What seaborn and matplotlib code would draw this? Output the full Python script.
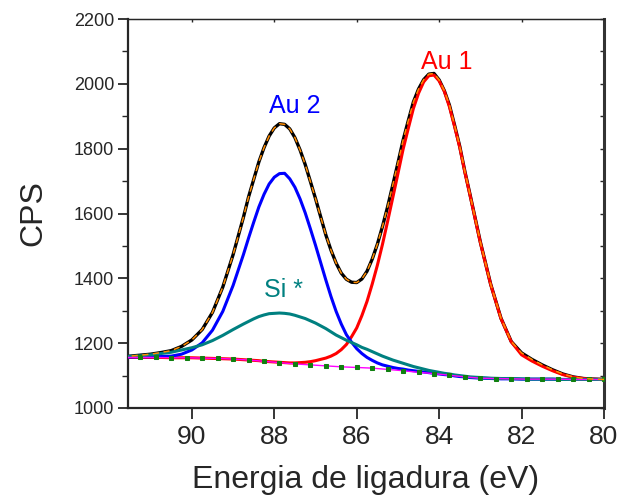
import pandas as pd
import seaborn as sns
from matplotlib import pyplot as plt

# values (binding energy in eV, counts per second)
energy = [91.75, 91.5, 91.25, 91.0, 90.75, 90.5, 90.25, 90.0, 89.75, 89.5,
          89.25, 89.0, 88.75,
          88.625, 88.5, 88.375, 88.25, 88.125, 88.0, 87.875, 87.75, 87.625,
          87.5, 87.375, 87.25, 87.125, 87.0,
          86.75, 86.625, 86.5, 86.375, 86.25, 86.125, 86.0, 85.875, 85.75,
          85.625, 85.5, 85.375, 85.25, 85.125, 85.0,
          84.875, 84.75, 84.625, 84.5, 84.375, 84.25, 84.125, 84.0, 83.875,
          83.75, 83.625, 83.5, 83.375, 83.25,
          83.0, 82.75, 82.5, 82.25, 82.0, 81.75, 81.5, 81.25, 81.0, 80.75,
          80.5, 80.25, 80.0]

envelope = [1159, 1160, 1163, 1166, 1171, 1177, 1190, 1210, 1242, 1295,
            1373, 1473, 1588,
            1651, 1705, 1759, 1803, 1839, 1864, 1877, 1875, 1861, 1834,
            1796, 1751, 1699, 1646,
            1534, 1487, 1447, 1416, 1397, 1388, 1387, 1398, 1422, 1459,
            1505, 1560, 1621, 1688, 1756,
            1826, 1886, 1944, 1984, 2013, 2030, 2032, 2012, 1979, 1934,
            1872, 1807, 1729, 1658,
            1512, 1382, 1277, 1205, 1170, 1150, 1133, 1118, 1105, 1096,
            1091, 1089, 1088]

au1 = [1156, 1156, 1156, 1156, 1156, 1155, 1155, 1155, 1154, 1153,
       1152, 1151, 1149,
       1148, 1147, 1146, 1144, 1143, 1142, 1141, 1140, 1139, 1139,
       1140, 1141, 1143, 1146,
       1154, 1160, 1168, 1180, 1196, 1220, 1247, 1285, 1329, 1382,
       1440, 1505, 1576, 1649, 1723,
       1798, 1862, 1924, 1971, 2006, 2025, 2027, 2009, 1977, 1929,
       1868, 1804, 1727, 1656,
       1510, 1381, 1276, 1204, 1164, 1145, 1129, 1115, 1103, 1095,
       1091, 1089, 1088]

au2 = [1157, 1157, 1158, 1158, 1159, 1160, 1166, 1179, 1201, 1240,
       1298, 1378, 1473,
       1524, 1573, 1620, 1659, 1691, 1712, 1723, 1724, 1707, 1681,
       1645, 1602, 1553, 1502,
       1395, 1344, 1298, 1259, 1226, 1203, 1183, 1168, 1156, 1147,
       1139, 1133, 1129, 1125, 1122,
       1120, 1117, 1115, 1113, 1111, 1109, 1107, 1105, 1103, 1102,
       1099, 1097, 1096, 1094,
       1092, 1091, 1090, 1090, 1089, 1089, 1089, 1089, 1088, 1088,
       1088, 1088, 1088]

si = [1158, 1159, 1161, 1164, 1168, 1172, 1179, 1186, 1195, 1208,
      1224, 1242, 1259,
      1267, 1275, 1282, 1287, 1291, 1292, 1293, 1292, 1290, 1286,
      1281, 1276, 1269, 1262,
      1245, 1235, 1225, 1217, 1209, 1202, 1195, 1187, 1181, 1174,
      1167, 1160, 1154, 1148, 1143,
      1138, 1133, 1128, 1124, 1120, 1116, 1113, 1110, 1107, 1105,
      1102, 1100, 1098, 1096,
      1094, 1092, 1091, 1091, 1090, 1089, 1089, 1089, 1088, 1088,
      1088, 1088, 1088]

bg_energy = [91.625, 91.25, 90.875, 90.5, 90.125, 89.75, 89.375, 89.0,
             88.625, 88.25, 87.875, 87.5, 87.125, 86.75, 86.375, 86.0,
             85.625, 85.25, 84.875, 84.5, 84.125, 83.75, 83.375, 83.0,
             82.625, 82.25, 81.875, 81.5, 81.125, 80.75, 80.375, 80.0]
background = [1156, 1156, 1156, 1155, 1155, 1154, 1153, 1151, 1148, 1144,
              1140, 1136, 1133, 1130, 1127, 1125, 1123, 1119, 1115, 1110,
              1106, 1101, 1096, 1092, 1091, 1090, 1089, 1089, 1089, 1088,
              1088, 1088]

labels = ['Au 1', 'Au 2', 'Si *']
label_x = [83.82, 87.5, 87.78]
label_y = [2045, 1909, 1342]
label_colors = ['#ff0000', '#0000ff', '#008080']

fit = pd.DataFrame({'energy': energy, 'envelope': envelope,
                    'au1': au1, 'au2': au2, 'si': si})
bg = pd.DataFrame({'energy': bg_energy, 'background': background})

sns.set_style('ticks')
plt.rcParams['font.family'] = ['Liberation Sans', 'DejaVu Sans']

fig = plt.figure(figsize=(6.21, 4.96), dpi=100)
ax = fig.add_axes([128 / 621, 1 - 408 / 496, 476 / 621, 389 / 496])

sns.lineplot(data=fit, x='energy', y='envelope', color='black', lw=2.4,
             ax=ax, zorder=2)
sns.lineplot(data=fit, x='energy', y='au1', color='#ff0000', lw=2.2,
             ax=ax, zorder=3)
sns.lineplot(data=fit, x='energy', y='au2', color='#0000ff', lw=2.2,
             ax=ax, zorder=3)
sns.lineplot(data=fit, x='energy', y='si', color='#008080', lw=2.2,
             ax=ax, zorder=3)
sns.lineplot(data=bg, x='energy', y='background', color='#ff00ff', lw=1.0,
             marker='s', markersize=2.5, markerfacecolor='#108010',
             markeredgecolor='#108010', ax=ax, zorder=4)
sns.lineplot(data=fit, x='energy', y='envelope', color='#ff8c00', lw=1.1,
             linestyle=(0, (4, 3)), ax=ax, zorder=5)

for txt, tx, ty, col in zip(labels, label_x, label_y, label_colors):
    ax.text(tx, ty, txt, color=col, fontsize=18, ha='center', va='baseline')

ax.set_xlim(91.55, 80)
ax.set_ylim(1000, 2200)
ax.set_xticks([90, 88, 86, 84, 82, 80])
ax.set_yticks(range(1000, 2201, 200))
ax.set_yticks(range(1100, 2200, 200), minor=True)

ax.tick_params(axis='x', direction='out', length=8, width=1.3,
               labelsize=19, pad=4)
ax.tick_params(axis='y', which='major', direction='out', length=7,
               width=1.3, labelsize=13, pad=3)
ax.tick_params(axis='y', which='minor', direction='out', length=4,
               width=1.0)

ax.set_xlabel('Energia de ligadura (eV)', fontsize=23, labelpad=12)
ax.set_ylabel('CPS', fontsize=23, labelpad=18)

ax.spines['left'].set_linewidth(1.6)
ax.spines['bottom'].set_linewidth(1.6)
ax.spines['right'].set_linewidth(2.2)
ax.spines['top'].set_linewidth(1.0)
ax.spines['right'].set_color('#333333')

top = ax.secondary_xaxis('top')
top.set_xticks([90, 88, 86, 84, 82, 80])
top.tick_params(direction='in', length=2.5, width=1.0, labeltop=False)
right = ax.secondary_yaxis('right')
right.set_yticks(range(1000, 2201, 100))
right.tick_params(direction='in', length=3, width=1.0, labelright=False)

plt.savefig('out.png', dpi=100)
